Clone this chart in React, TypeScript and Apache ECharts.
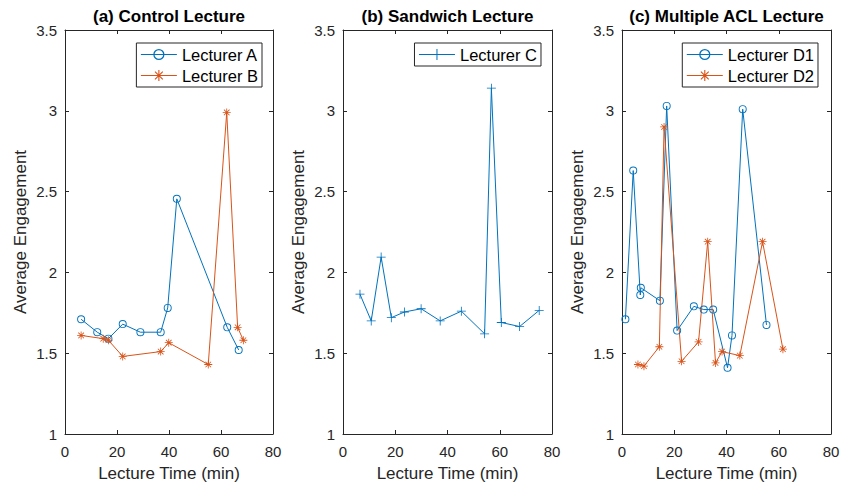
import React, { useEffect, useRef } from "react";
import * as echarts from "echarts";

const panelTitles = ["(a) Control Lecture", "(b) Sandwich Lecture", "(c) Multiple ACL Lecture"];
const xTicks = [0, 20, 40, 60, 80];
const yTicks = [1, 1.5, 2, 2.5, 3, 3.5];

const aTime = [6.2, 12.4, 16.7, 22.2, 29, 36.8, 39.5, 43, 62.4, 66.8];
const aEng = [1.71, 1.63, 1.59, 1.68, 1.63, 1.63, 1.78, 2.455, 1.66, 1.52];
const bTime = [6.2, 14.7, 16.7, 22.2, 36.8, 39.9, 55.1, 62.2, 66.4, 68.6];
const bEng = [1.61, 1.59, 1.58, 1.48, 1.51, 1.565, 1.43, 2.99, 1.66, 1.58];
const cTime = [6.5, 10.8, 14.6, 18.5, 23.5, 29.9, 37.2, 45.3, 54.2, 56.8, 60.6, 67.6, 75.1];
const cEng = [1.865, 1.7, 2.095, 1.72, 1.755, 1.775, 1.7, 1.76, 1.62, 3.14, 1.69, 1.665, 1.765];
const d1Time = [1.3, 4.3, 7.0, 7.2, 14.5, 17.1, 21.1, 27.5, 31.3, 34.9, 40.4, 42.1, 46.2, 55.3];
const d1Eng = [1.71, 2.63, 1.86, 1.905, 1.825, 3.03, 1.64, 1.79, 1.77, 1.77, 1.41, 1.61, 3.01, 1.675];
const d2Time = [6.1, 8.4, 14.3, 16.1, 22.8, 29.3, 32.8, 35.8, 38.3, 45.1, 53.8, 61.6];
const d2Eng = [1.43, 1.42, 1.54, 2.9, 1.45, 1.57, 2.19, 1.44, 1.51, 1.485, 2.19, 1.525];

const BLUE = "#0072BD";
const ORANGE = "#D95319";
const AXIS = "#262626";
const FONT = "'Liberation Sans', Arial, Helvetica, sans-serif";

const ASTERISK =
  "path://M0 9L20 9L20 11L0 11Z M9 0L11 0L11 20L9 20Z M2.3 3.7L3.7 2.3L17.7 16.3L16.3 17.7Z M16.3 2.3L17.7 3.7L3.7 17.7L2.3 16.3Z";
const PLUS = "path://M0 9.1L20 9.1L20 10.9L0 10.9Z M9.1 0L10.9 0L10.9 20L9.1 20Z";
const RING =
  "path://M10 0A10 10 0 1 1 10 20A10 10 0 1 1 10 0Z M10 2.3A7.7 7.7 0 1 0 10 17.7A7.7 7.7 0 1 0 10 2.3Z";

const grids = [
  { left: 65, width: 208 },
  { left: 343, width: 209 },
  { left: 622, width: 209 },
];

function zip(xs: number[], ys: number[]) {
  return xs.map((x, i) => [x, ys[i]]);
}

export default function App() {
  const ref = useRef<HTMLDivElement>(null);
  useEffect(() => {
    if (!ref.current) return;
    const chart = echarts.init(ref.current, undefined, { renderer: "svg" });

    const xAxes: any[] = [];
    const yAxes: any[] = [];
    grids.forEach((_, i) => {
      const common = {
        gridIndex: i,
        type: "value",
        axisLine: { show: true, onZero: false, lineStyle: { color: AXIS, width: 1 } },
        axisTick: { show: true, inside: true, length: 4, lineStyle: { color: AXIS } },
        splitLine: { show: false },
      };
      xAxes.push({
        ...common,
        position: "bottom",
        min: xTicks[0],
        max: xTicks[xTicks.length - 1],
        interval: 20,
        name: "Lecture Time (min)",
        nameLocation: "middle",
        nameGap: 31,
        nameTextStyle: { fontFamily: FONT, fontSize: 17, color: AXIS },
        axisLabel: { show: true, margin: 10, fontFamily: FONT, fontSize: 15, color: AXIS },
      });
      xAxes.push({
        ...common,
        position: "top",
        min: xTicks[0],
        max: xTicks[xTicks.length - 1],
        interval: 20,
        axisLabel: { show: false },
      });
      yAxes.push({
        ...common,
        position: "left",
        min: yTicks[0],
        max: yTicks[yTicks.length - 1],
        interval: 0.5,
        name: "Average Engagement",
        nameLocation: "middle",
        nameGap: 36,
        nameTextStyle: { fontFamily: FONT, fontSize: 17, color: AXIS },
        axisLabel: { show: true, margin: 8, fontFamily: FONT, fontSize: 15, color: AXIS },
      });
      yAxes.push({
        ...common,
        position: "right",
        min: yTicks[0],
        max: yTicks[yTicks.length - 1],
        interval: 0.5,
        axisLabel: { show: false },
      });
    });

    const lineSeries = (name: string, data: number[][], gi: number, color: string, symbol: string, size: number) => ({
      name,
      type: "line",
      xAxisIndex: gi * 2,
      yAxisIndex: gi * 2,
      data,
      symbol,
      symbolSize: size,
      showAllSymbol: true,
      lineStyle: { color, width: 1 },
      itemStyle: { color, borderWidth: 0 },
      emphasis: { disabled: true },
    });

    const legendCommon = {
      orient: "vertical",
      top: 43,
      itemWidth: 36,
      itemHeight: 14,
      itemGap: 4,
      padding: [3, 4, 3, 4],
      borderColor: AXIS,
      borderWidth: 1,
      borderRadius: 0,
      backgroundColor: "#fff",
      selectedMode: false,
      lineStyle: { width: 1 },
      textStyle: { fontFamily: FONT, fontSize: 16.5, color: "#000" },
    };

    chart.setOption({
      animation: false,
      grid: grids.map((g) => ({ left: g.left, width: g.width, top: 30, height: 405, containLabel: false })),
      xAxis: xAxes,
      yAxis: yAxes,
      legend: [
        { ...legendCommon, right: 843 - 262, data: ["Lecturer A", "Lecturer B"] },
        { ...legendCommon, right: 843 - 541, data: ["Lecturer C"] },
        { ...legendCommon, right: 843 - 818, data: ["Lecturer D1", "Lecturer D2"] },
      ],
      graphic: panelTitles.map((t, i) => ({
        type: "text",
        x: grids[i].left + grids[i].width / 2,
        y: 16,
        style: {
          text: t,
          fontFamily: FONT,
          fontSize: 17,
          fontWeight: "bold",
          fill: "#000",
          textAlign: "center",
          textVerticalAlign: "middle",
        },
      })),
      series: [
        lineSeries("Lecturer A", zip(aTime, aEng), 0, BLUE, RING, 8),
        lineSeries("Lecturer B", zip(bTime, bEng), 0, ORANGE, ASTERISK, 8),
        lineSeries("Lecturer C", zip(cTime, cEng), 1, BLUE, PLUS, 9),
        lineSeries("Lecturer D1", zip(d1Time, d1Eng), 2, BLUE, RING, 8),
        lineSeries("Lecturer D2", zip(d2Time, d2Eng), 2, ORANGE, ASTERISK, 8),
      ],
    });
    return () => chart.dispose();
  }, []);
  return (
    <div
      ref={ref}
      style={{ position: "fixed", left: 0, top: 0, width: 843, height: 487, background: "#fff" }}
    />
  );
}
